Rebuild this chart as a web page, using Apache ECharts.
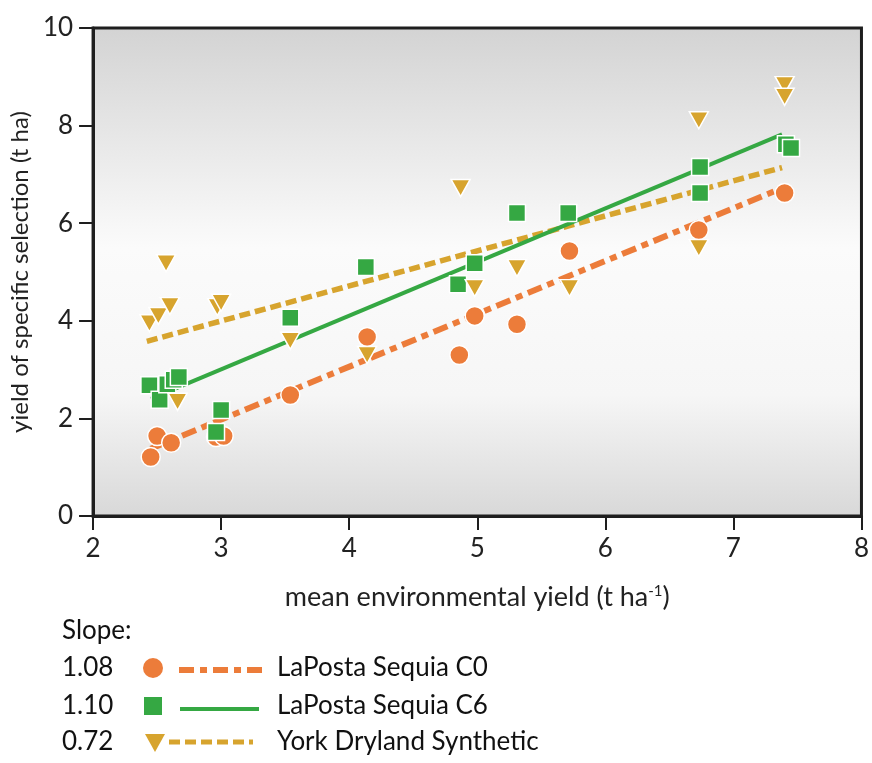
<!DOCTYPE html>
<html>
<head>
<meta charset="utf-8">
<script src="https://cdn.jsdelivr.net/npm/echarts@6/dist/echarts.min.js"></script>
<style>
    html, body { margin: 0; padding: 0; background: #fff; }
    #chart { width: 872px; height: 763px; }
</style>
</head>
<body>
<div id="chart"></div>
<script>
    // LaPosta Sequia C0 (circles)
    var c0X = [2.45, 2.50, 2.61, 2.96, 3.02, 3.54, 4.14, 4.86, 4.98, 5.31, 5.72, 6.73, 7.40];
    var c0Y = [1.21, 1.64, 1.50, 1.62, 1.64, 2.48, 3.67, 3.30, 4.10, 3.93, 5.43, 5.86, 6.62];

    // LaPosta Sequia C6 (squares)
    var c6X = [2.44, 2.52, 2.58, 2.63, 2.67, 2.96, 3.00, 3.54, 4.13, 4.85, 4.98, 5.31, 5.71, 6.74, 6.74, 7.41, 7.45];
    var c6Y = [2.68, 2.38, 2.70, 2.79, 2.85, 1.72, 2.17, 4.06, 5.10, 4.75, 5.18, 6.21, 6.21, 7.15, 6.62, 7.62, 7.54];

    // York Dryland Synthetic (triangles)
    var ydX = [2.44, 2.51, 2.57, 2.60, 2.66, 2.97, 3.00, 3.54, 4.14, 4.87, 4.98, 5.31, 5.72, 6.73, 6.73, 7.40, 7.40];
    var ydY = [3.95, 4.10, 5.18, 4.30, 2.34, 4.28, 4.37, 3.59, 3.30, 6.72, 4.67, 5.08, 4.67, 8.11, 5.49, 8.83, 8.59];

    // regression lines
    var c0Fit = [[2.45, 1.38], [7.38, 6.72]];
    var c6Fit = [[2.45, 2.40], [7.38, 7.82]];
    var ydFit = [[2.42, 3.58], [7.38, 7.14]];

    var seriesNames = ['LaPosta Sequia C0', 'LaPosta Sequia C6', 'York Dryland Synthetic'];
    var slopes = ['1.08', '1.10', '0.72'];

    var xTicks = [2, 3, 4, 5, 6, 7, 8];
    var yTicks = [0, 2, 4, 6, 8, 10];

    var ORANGE = '#ec7c3a';
    var GREEN = '#35a843';
    var GOLD = '#d7a42e';
    var FONT = 'Lato';

    var C0_DASH = [15, 6, 7, 6];
    var YD_DASH = [11, 5];

    function zip(xs, ys) {
        var out = [];
        for (var i = 0; i < xs.length; i++) {
            out.push([xs[i], ys[i]]);
        }
        return out;
    }

    function lineSeries(data, color, width, dash) {
        return {
            type: 'line',
            data: data,
            symbol: 'none',
            z: 2,
            lineStyle: { color: color, width: width, type: dash }
        };
    }

    function scatterSeries(name, data, color, symbol, size, rotate, z) {
        return {
            name: name,
            type: 'scatter',
            data: data,
            symbol: symbol,
            symbolSize: size,
            symbolRotate: rotate,
            z: z,
            itemStyle: { color: color, borderColor: '#fff', borderWidth: 1.5, opacity: 1 }
        };
    }

    //图例
    function legendGraphics() {
        var els = [];
        els.push({
            type: 'text', left: 62, top: 618,
            style: { text: 'Slope:', font: '26px ' + FONT, fill: '#111' }
        });
        var rowY = [668, 706, 742];
        for (var i = 0; i < 3; i++) {
            var cy = rowY[i];
            els.push({
                type: 'text', x: 62, y: cy,
                style: { text: slopes[i], font: '26px ' + FONT, fill: '#111', verticalAlign: 'middle' }
            });
            els.push({
                type: 'text', x: 277, y: cy,
                style: { text: seriesNames[i], font: '26px ' + FONT, fill: '#111', verticalAlign: 'middle' }
            });
        }
        // markers
        els.push({ type: 'circle', shape: { cx: 153, cy: 668, r: 10 }, style: { fill: ORANGE } });
        els.push({ type: 'rect', shape: { x: 144, y: 697, width: 18, height: 18 }, style: { fill: GREEN } });
        els.push({ type: 'polygon', shape: { points: [[145, 734], [165, 734], [155, 752]] }, style: { fill: GOLD } });
        // line samples
        els.push({ type: 'line', shape: { x1: 179, y1: 670, x2: 263, y2: 670 }, style: { stroke: ORANGE, lineWidth: 6, lineDash: C0_DASH } });
        els.push({ type: 'line', shape: { x1: 180, y1: 709, x2: 259, y2: 709 }, style: { stroke: GREEN, lineWidth: 4 } });
        els.push({ type: 'line', shape: { x1: 169, y1: 742, x2: 253, y2: 742 }, style: { stroke: GOLD, lineWidth: 5, lineDash: YD_DASH } });
        return els;
    }

    var chart = echarts.init(document.getElementById('chart'));

    var option = {
        backgroundColor: '#fff',
        animation: false,
        textStyle: { fontFamily: FONT },
        grid: {
            left: 88, top: 28, width: 778, height: 488,
            show: true,
            borderColor: '#1e1e1e',
            borderWidth: 3,
            backgroundColor: {
                type: 'linear', x: 0, y: 0, x2: 0, y2: 1,
                colorStops: [
                    { offset: 0, color: '#d3d3d3' },
                    { offset: 0.45, color: '#fbfbfb' },
                    { offset: 0.75, color: '#f6f6f6' },
                    { offset: 1, color: '#d8d8d8' }
                ]
            }
        },
        xAxis: {
            type: 'value',
            min: xTicks[0], max: xTicks[xTicks.length - 1], interval: 1,
            name: '{base|mean environmental yield (t ha}{sup|-1}{base|)}',
            nameLocation: 'middle',
            nameGap: 68,
            nameTextStyle: {
                fontSize: 27, color: '#222', fontFamily: FONT,
                rich: {
                    base: { fontSize: 27, color: '#222', fontFamily: FONT },
                    sup: { fontSize: 15, verticalAlign: 'top', padding: [0, 0, 12, 0], color: '#222', fontFamily: FONT }
                }
            },
            axisLine: { show: true, lineStyle: { color: '#1e1e1e', width: 3 } },
            axisTick: { show: true, inside: false, length: 14, lineStyle: { color: '#1e1e1e', width: 2 } },
            axisLabel: { fontSize: 26, color: '#222', margin: 20, fontFamily: FONT },
            splitLine: { show: false }
        },
        yAxis: {
            type: 'value',
            min: yTicks[0], max: yTicks[yTicks.length - 1], interval: 2,
            name: 'yield of specific selection (t ha)',
            nameLocation: 'middle',
            nameGap: 60,
            nameTextStyle: { fontSize: 24, color: '#222', fontFamily: FONT },
            axisLine: { show: true, lineStyle: { color: '#1e1e1e', width: 3 } },
            axisTick: { show: true, inside: false, length: 14, lineStyle: { color: '#1e1e1e', width: 2 } },
            axisLabel: { fontSize: 26, color: '#222', margin: 20, fontFamily: FONT },
            splitLine: { show: false }
        },
        series: [
            lineSeries(ydFit, GOLD, 5.5, YD_DASH),
            lineSeries(c6Fit, GREEN, 4, 'solid'),
            lineSeries(c0Fit, ORANGE, 6, C0_DASH),
            scatterSeries(seriesNames[0], zip(c0X, c0Y), ORANGE, 'circle', 19, 0, 3),
            scatterSeries(seriesNames[1], zip(c6X, c6Y), GREEN, 'rect', 17, 0, 4),
            scatterSeries(seriesNames[2], zip(ydX, ydY), GOLD, 'triangle', [19, 17], 180, 5)
        ],
        graphic: legendGraphics()
    };

    chart.setOption(option);
</script>
</body>
</html>
